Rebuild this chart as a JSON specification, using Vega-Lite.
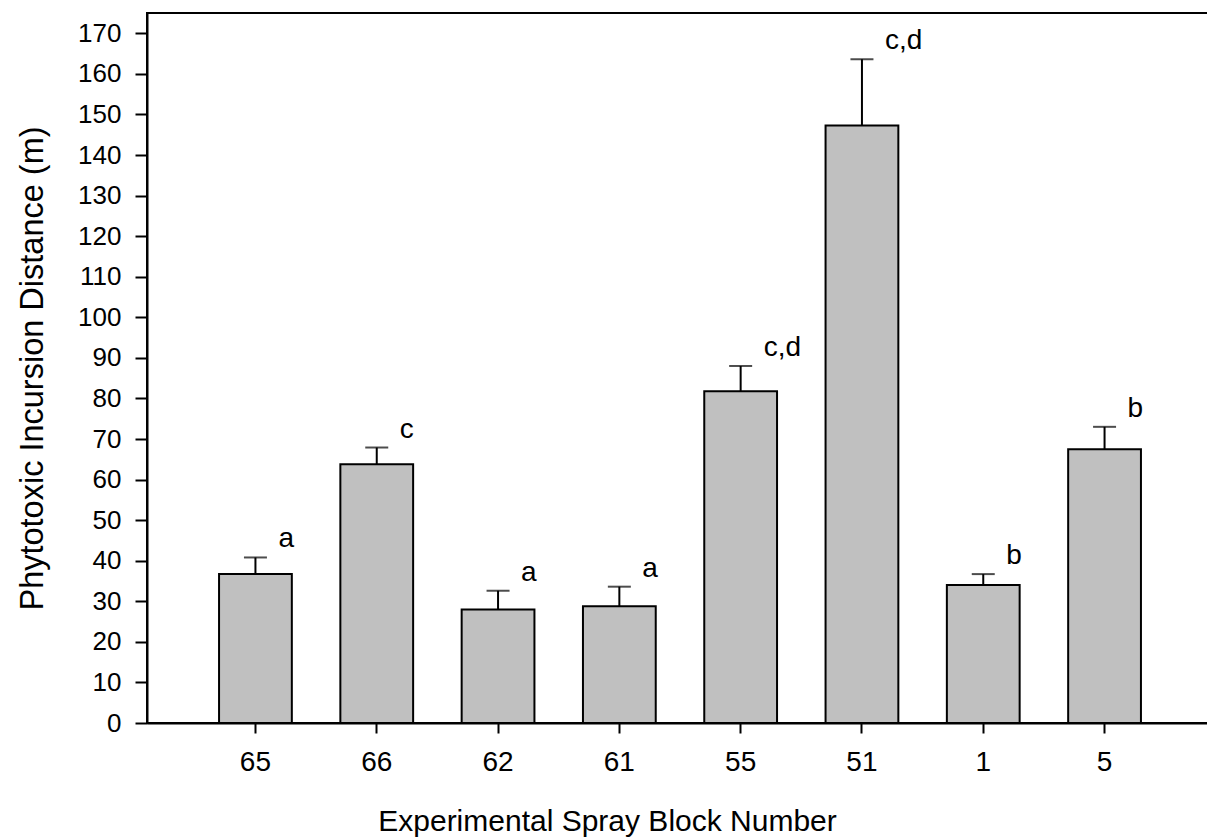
{
  "$schema": "https://vega.github.io/schema/vega-lite/v6.json",
  "autosize": {"type": "none"},
  "padding": {"left": 147, "top": 13, "right": 0, "bottom": 117},
  "width": 1066,
  "height": 710,
  "background": "white",
  "config": {
    "font": "Liberation Sans",
    "view": {"stroke": "black", "strokeWidth": 2},
    "axis": {"grid": false, "domainColor": "black", "domainWidth": 2, "tickColor": "black", "tickWidth": 2, "labelColor": "black", "titleColor": "black", "labelFont": "Liberation Sans", "titleFont": "Liberation Sans", "titleFontWeight": "normal"}
  },
  "data": {
    "values": [
      {"block": "65", "mean": 36.7, "upper": 40.8, "group": "a"},
      {"block": "66", "mean": 63.8, "upper": 67.9, "group": "c"},
      {"block": "62", "mean": 28.0, "upper": 32.6, "group": "a"},
      {"block": "61", "mean": 28.8, "upper": 33.6, "group": "a"},
      {"block": "55", "mean": 81.8, "upper": 88.0, "group": "c,d"},
      {"block": "51", "mean": 147.3, "upper": 163.6, "group": "c,d"},
      {"block": "1", "mean": 34.0, "upper": 36.7, "group": "b"},
      {"block": "5", "mean": 67.5, "upper": 73.0, "group": "b"}
    ]
  },
  "encoding": {
    "x": {
      "field": "block", "type": "nominal", "sort": null,
      "scale": {"paddingInner": 0.4, "paddingOuter": 0.594},
      "axis": {"title": "Experimental Spray Block Number", "labelAngle": 0, "labelFontSize": 28, "titleFontSize": 30, "tickSize": 10, "labelPadding": 15, "titlePadding": 30, "titleX": 460, "titleAlign": "center"}
    }
  },
  "layer": [
    {
      "mark": {"type": "rule", "stroke": "black", "strokeWidth": 2},
      "encoding": {
        "y": {"field": "mean", "type": "quantitative"},
        "y2": {"field": "upper"}
      }
    },
    {
      "mark": {"type": "tick", "orient": "horizontal", "color": "black", "size": 23, "thickness": 2},
      "encoding": {
        "y": {"field": "upper", "type": "quantitative"}
      }
    },
    {
      "mark": {"type": "bar", "fill": "#c0c0c0", "stroke": "black", "strokeWidth": 2},
      "encoding": {
        "y": {
          "field": "mean", "type": "quantitative",
          "scale": {"domain": [0, 175], "nice": false, "zero": true},
          "axis": {"title": "Phytotoxic Incursion Distance (m)", "values": [0,10,20,30,40,50,60,70,80,90,100,110,120,130,140,150,160,170], "labelFontSize": 26, "titleFontSize": 32.5, "tickSize": 12, "labelPadding": 14, "titlePadding": 28}
        }
      }
    },
    {
      "mark": {"type": "text", "align": "left", "baseline": "middle", "dx": 23, "dy": -18, "fontSize": 28, "color": "black", "font": "Liberation Sans"},
      "encoding": {
        "y": {"field": "upper", "type": "quantitative"},
        "text": {"field": "group"}
      }
    }
  ]
}
